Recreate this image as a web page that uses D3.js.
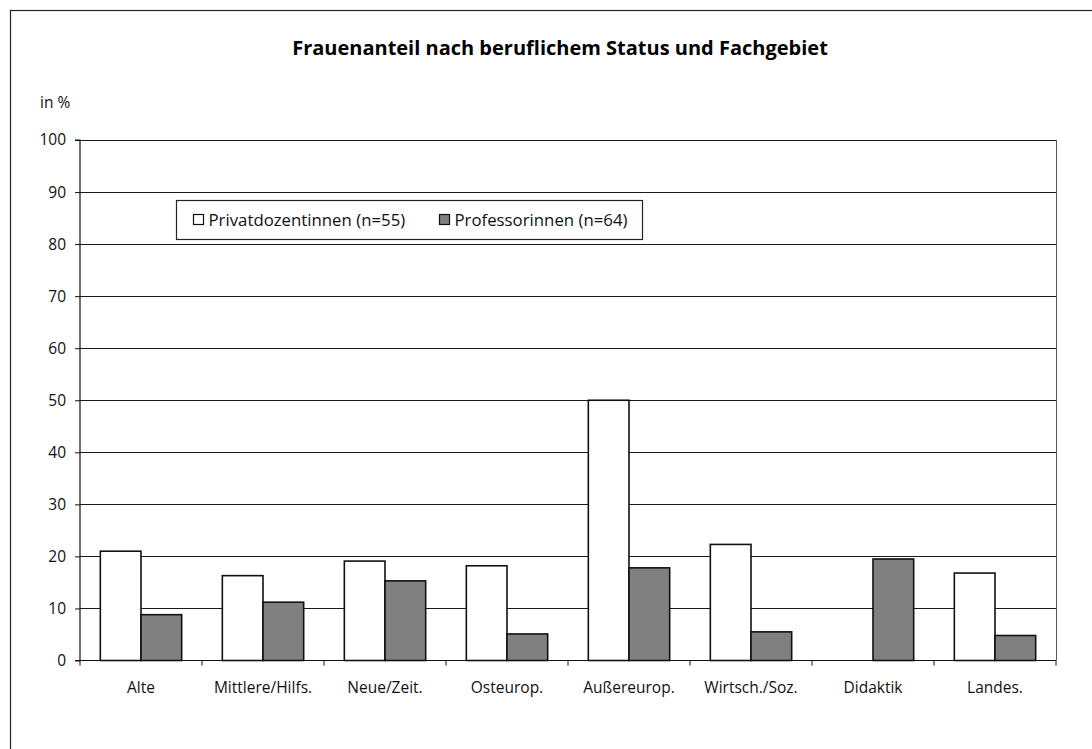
<!DOCTYPE html>
<html>
<head>
<meta charset="utf-8">
<script src="https://cdn.jsdelivr.net/npm/d3@7"></script>
<style>
  body { margin: 0; background: #fff; }
  svg { display: block; font-family: "Open Sans", "Noto Sans", sans-serif; }
</style>
</head>
<body>
<div id="chart"></div>
<script>
// Frauenanteil nach beruflichem Status und Fachgebiet
const categories = ['Alte', 'Mittlere/Hilfs.', 'Neue/Zeit.', 'Osteurop.', 'Außereurop.', 'Wirtsch./Soz.', 'Didaktik', 'Landes.'];
const seriesNames = ['Privatdozentinnen (n=55)', 'Professorinnen (n=64)'];
const privatdozentinnen = [21.0, 16.3, 19.1, 18.2, 50.0, 22.3, 0, 16.8];
const professorinnen = [8.8, 11.2, 15.3, 5.1, 17.8, 5.5, 19.5, 4.8];
const yTicks = [0, 10, 20, 30, 40, 50, 60, 70, 80, 90, 100];
const colors = ['#ffffff', '#808080'];

const W = 1092, H = 749;
const plot = { left: 80, right: 1056, top: 140, bottom: 660.5 };
const fontSize = '15.5px';

const svg = d3.select('#chart').append('svg')
    .attr('width', W)
    .attr('height', H);

// outer frame (cut off at right and bottom like the source)
svg.append('rect')
    .attr('x', 10.5).attr('y', 10.5)
    .attr('width', W + 20).attr('height', H + 20)
    .attr('fill', 'none')
    .attr('stroke', '#222')
    .attr('stroke-width', 1.2);

// Scales
const x0 = d3.scaleBand()
    .domain(categories)
    .range([plot.left, plot.right])
    .paddingInner(0)
    .paddingOuter(0);

const x1 = d3.scaleBand()
    .domain([0, 1])
    .range([x0.bandwidth() / 6, x0.bandwidth() * 5 / 6]);

const y = d3.scaleLinear()
    .domain([0, 100])
    .range([plot.bottom, plot.top]);

// Gridlines
svg.append('g')
    .selectAll('line')
    .data(yTicks.filter(d => d > 0))
    .join('line')
    .attr('x1', plot.left).attr('x2', plot.right)
    .attr('y1', d => Math.round(y(d)) + 0.5)
    .attr('y2', d => Math.round(y(d)) + 0.5)
    .attr('stroke', '#1a1a1a')
    .attr('stroke-width', 1);

// right edge of plot area
svg.append('line')
    .attr('x1', plot.right + 0.5).attr('x2', plot.right + 0.5)
    .attr('y1', plot.top).attr('y2', plot.bottom)
    .attr('stroke', '#555')
    .attr('stroke-width', 1);

// Bars
const data = categories.map((c, i) => ({ cat: c, values: [privatdozentinnen[i], professorinnen[i]] }));

const groups = svg.append('g')
    .selectAll('g')
    .data(data)
    .join('g')
    .attr('transform', d => `translate(${x0(d.cat)},0)`);

groups.selectAll('rect')
    .data(d => d.values.map((v, k) => ({ k, v })).filter(e => e.v > 0))
    .join('rect')
    .attr('x', d => x1(d.k))
    .attr('y', d => y(d.v))
    .attr('width', x1.bandwidth())
    .attr('height', d => y(0) - y(d.v))
    .attr('fill', d => colors[d.k])
    .attr('stroke', '#111')
    .attr('stroke-width', 1.6);

// Axes
const yAxis = svg.append('g')
    .attr('transform', `translate(${plot.left},0)`)
    .call(d3.axisLeft(y).tickValues(yTicks).tickSize(5).tickPadding(9));

const xAxis = svg.append('g')
    .attr('transform', `translate(0,${plot.bottom})`)
    .call(d3.axisBottom(x0).tickSize(0).tickPadding(21));

// category boundary ticks
svg.append('g')
    .selectAll('line')
    .data(d3.range(categories.length + 1))
    .join('line')
    .attr('x1', i => plot.left + i * x0.bandwidth())
    .attr('x2', i => plot.left + i * x0.bandwidth())
    .attr('y1', plot.bottom)
    .attr('y2', plot.bottom + 5)
    .attr('stroke', '#111');

[yAxis, xAxis].forEach(a => {
    a.select('.domain').attr('stroke', '#111').attr('stroke-width', 1.2);
    a.selectAll('.tick line').attr('stroke', '#111');
    a.selectAll('text')
        .attr('fill', '#111')
        .style('font-size', fontSize)
        .style('font-family', '"Open Sans", "Noto Sans", sans-serif');
});
yAxis.select('.domain').attr('d', `M-5,${plot.top}H0V${plot.bottom}H-5`);
xAxis.select('.domain').attr('d', `M${plot.left},0H${plot.right}`);

// Title
svg.append('text')
    .attr('x', 560)
    .attr('y', 55)
    .attr('text-anchor', 'middle')
    .style('font-size', '20px')
    .style('font-weight', '700')
    .attr('fill', '#000')
    .text('Frauenanteil nach beruflichem Status und Fachgebiet');

// y unit label
svg.append('text')
    .attr('x', 40)
    .attr('y', 108)
    .style('font-size', fontSize)
    .attr('fill', '#111')
    .text('in %');

// Legend
const legend = svg.append('g').attr('transform', 'translate(176.5,200.5)');
legend.append('rect')
    .attr('width', 466).attr('height', 39)
    .attr('fill', '#fff')
    .attr('stroke', '#222')
    .attr('stroke-width', 1.2);

const legendX = [17, 263];
seriesNames.forEach((name, k) => {
    legend.append('rect')
        .attr('x', legendX[k]).attr('y', 14)
        .attr('width', 10).attr('height', 10)
        .attr('fill', colors[k])
        .attr('stroke', '#111')
        .attr('stroke-width', 1.2);
    legend.append('text')
        .attr('x', legendX[k] + 15)
        .attr('y', 25.5)
        .style('font-size', '16.8px')
        .attr('fill', '#111')
        .text(name);
});
</script>
</body>
</html>
